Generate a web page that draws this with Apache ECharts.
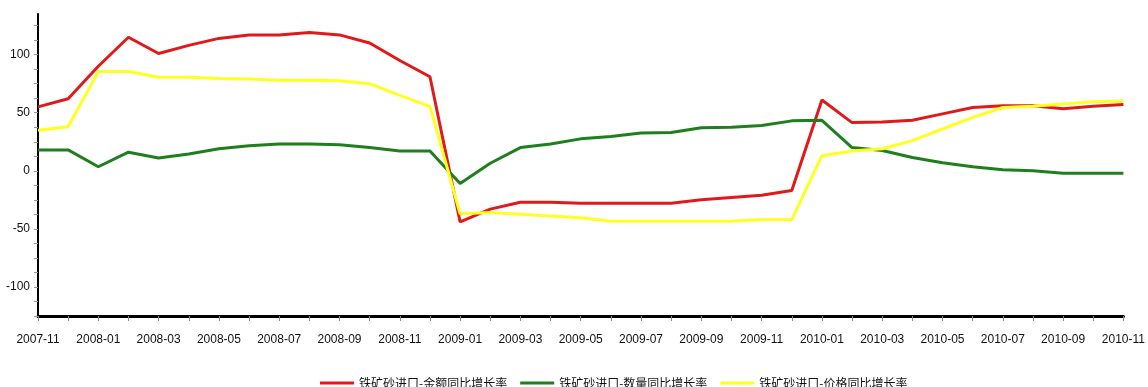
<!DOCTYPE html>
<html>
<head>
<meta charset="utf-8">
<script src="https://cdn.jsdelivr.net/npm/echarts@6/dist/echarts.min.js"></script>
<style>
  html, body { margin: 0; padding: 0; background: #fff; }
  #chart { width: 1148px; height: 387px; }
</style>
</head>
<body>
<div id="chart"></div>
<script>
// Monthly categories, 2007-11 .. 2010-11
const months = [
  '2007-11','2007-12','2008-01','2008-02','2008-03','2008-04','2008-05','2008-06',
  '2008-07','2008-08','2008-09','2008-10','2008-11','2008-12','2009-01','2009-02',
  '2009-03','2009-04','2009-05','2009-06','2009-07','2009-08','2009-09','2009-10',
  '2009-11','2009-12','2010-01','2010-02','2010-03','2010-04','2010-05','2010-06',
  '2010-07','2010-08','2010-09','2010-10','2010-11'
];

// Iron ore imports, year-on-year growth (%)
const valueGrowth = [
  55, 62, 90, 115, 101, 108, 114, 117,
  117, 119, 117, 110, 95, 81, -44, -33,
  -27, -27, -28, -28, -28, -28, -25, -23,
  -21, -17, 61, 41.5, 42, 43.5, 49, 54.5,
  56, 56, 53.5, 55.5, 57
];
const volumeGrowth = [
  18, 18, 3.5, 16, 11, 14.5, 19, 21.5,
  23, 23, 22.5, 20, 17, 17, -11, 6.5,
  20, 23, 27.5, 29.5, 32.5, 33, 37, 37.5,
  39, 43, 43.5, 20, 17.5, 11.5, 7, 3.5,
  1, 0, -2, -2, -2
];
const priceGrowth = [
  35, 38, 85.5, 85.5, 80.5, 80.5, 79.5, 79,
  78, 78, 77.5, 75, 65, 55.5, -37, -36,
  -37.5, -39, -40.5, -43.5, -43.5, -43.5, -43.5, -43.5,
  -42, -42, 13, 17, 19, 26, 36, 46,
  54.5, 55.5, 57.5, 59.5, 60
];

const seriesNames = ['铁矿砂进口-金额同比增长率', '铁矿砂进口-数量同比增长率', '铁矿砂进口-价格同比增长率'];
const seriesColors = ['#E01A1A', '#1F7F1F', '#FFFF22'];

const axisFont = '"Liberation Sans", Arial, sans-serif';

const chart = echarts.init(document.getElementById('chart'), null, { renderer: 'canvas' });

function lineSeries(name, data, color) {
  return {
    name: name,
    type: 'line',
    data: data,
    symbol: 'none',
    smooth: false,
    lineStyle: { width: 3, color: color },
    itemStyle: { color: color },
    emphasis: { disabled: true }
  };
}

chart.setOption({
  animation: false,
  backgroundColor: '#ffffff',
  grid: { left: 38, right: 19, top: 14, bottom: 71, containLabel: false },
  legend: {
    left: 315,
    top: 372,
    icon: 'rect',
    itemWidth: 34,
    itemHeight: 3,
    itemGap: 13,
    textStyle: { fontFamily: '"Noto Sans CJK SC", sans-serif', fontSize: 12, color: '#111' },
    data: seriesNames
  },
  xAxis: {
    type: 'category',
    data: months,
    boundaryGap: false,
    axisLine: { onZero: false, lineStyle: { color: '#000', width: 3 } },
    axisTick: { show: true, interval: 0, length: 5, lineStyle: { color: '#888', width: 1 } },
    axisLabel: {
      interval: 1,
      margin: 18,
      color: '#111',
      fontSize: 12,
      fontFamily: axisFont
    },
    splitLine: { show: false }
  },
  yAxis: {
    type: 'value',
    min: -125,
    max: 135,
    interval: 12.5,
    axisLine: { show: true, onZero: false, lineStyle: { color: '#000', width: 2 } },
    axisTick: { show: true, length: 4, lineStyle: { color: '#999', width: 1 } },
    axisLabel: {
      margin: 8,
      color: '#111',
      fontSize: 12,
      fontFamily: axisFont,
      showMaxLabel: false,
      formatter: function (v) { return (v % 50 === 0) ? String(v) : ''; }
    },
    splitLine: { show: false }
  },
  series: [
    lineSeries(seriesNames[0], valueGrowth, seriesColors[0]),
    lineSeries(seriesNames[1], volumeGrowth, seriesColors[1]),
    lineSeries(seriesNames[2], priceGrowth, seriesColors[2])
  ]
});
</script>
</body>
</html>
